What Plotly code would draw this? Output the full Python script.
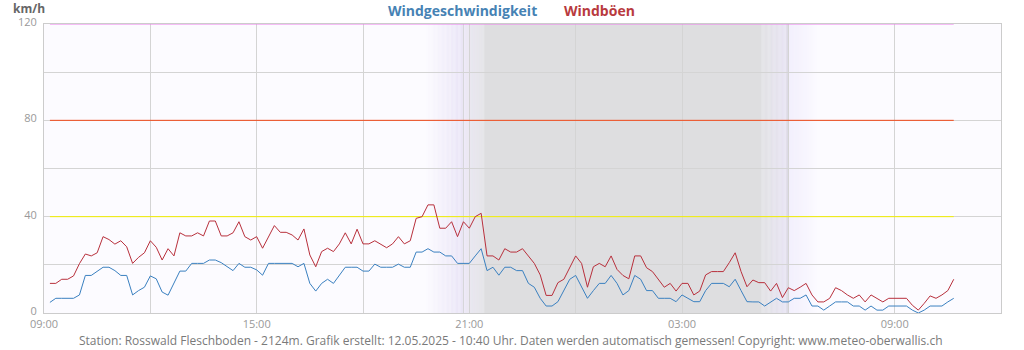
import plotly.graph_objects as go
import pandas as pd

# --- measurement series (km/h), one value every 10 minutes -------------------
START = "2025-05-11 09:10"
STEP = "10min"

wind_speed = [
    4.4, 6.1, 6.1, 6.1, 6.1, 7.5, 15.6, 15.6, 17.2, 19,
    19, 17.6, 15.6, 15.6, 7.5, 9.3, 10.7, 15.4, 14.2, 8.7,
    7.4, 12.3, 17.4, 17.4, 20.6, 20.6, 20.6, 22, 22, 20.9,
    19.2, 17.6, 20.6, 19, 19, 17.9, 15.7, 20.6, 20.6, 20.6,
    20.6,
    20.6, 19.2, 20.6, 12.3, 9.1, 12.3, 14, 12.3, 15.8, 19,
    19, 19, 17.4, 17.4, 20.3, 19, 19, 19, 20.3, 19,
    19, 25.3, 25.3, 26.7, 25.3, 25.3, 23.7, 23.7, 20.6, 20.6,
    20.6, 23.7, 26.7, 17.6, 19, 15.7, 19, 19, 17.6, 17.6,
    12.3,
    10.7, 6.1, 2.9, 2.9, 4.7, 9.3, 14, 15.6, 10.9, 6.1,
    9.3, 12.3, 12.3, 15.6, 12.3, 7.5, 9.3, 15.6, 14, 9.3,
    9.3, 6.1, 6.1, 6.1, 4.7, 7.5, 6.1, 4.7, 4.7, 9.3,
    12.3, 12.3, 12.3, 10.9, 14, 9.3, 4.7,
    4.6, 4.6, 2.9, 4.6, 6.1, 4.6, 4.6, 6.1, 6.1, 7.5,
    2.9, 2.9, 1.2, 2.9, 4.6, 4.6, 4.6, 2.9, 2.9, 1.2,
    2.9, 1.2, 1.2, 2.9, 2.9, 2.9, 2.9, 1.2, 0, 1.2,
    2.9, 2.9, 2.9, 4.6, 6.1,
]

wind_gusts = [
    12.3, 12.3, 14, 14, 15.4, 20.5, 24.5, 23.7, 25, 31.7,
    30.5, 28.6, 30, 27.5, 20.6, 23.1, 25, 30, 27.3, 22,
    26.7, 23.7, 33.3, 32, 32, 33.3, 32, 38.2, 38.2, 32,
    32, 33.3, 37.9, 31.7, 30.3, 31.7, 26.9, 31.7, 36.3, 33.5,
    33.5,
    32.4, 30.3, 34.9, 24.1, 19.2, 25.5, 26.9, 25.5, 28.7, 33.3,
    28.7, 34.8, 28.7, 28.7, 30, 28.7, 27.1, 28.7, 31.7, 28.7,
    30, 39.3, 40, 44.9, 44.9, 35.2, 35.2, 37.9, 31.7, 37.9,
    35.2, 40, 41.4, 23.7, 23.7, 22, 26.7, 25.3, 25.3, 26.7,
    23.7,
    20.6, 15.8, 7.3, 7.3, 12.6, 14, 19.2, 23.7, 20.6, 10.7,
    19.2, 20.6, 19.2, 23.7, 18.1, 15.6, 14.2, 23.7, 23.7, 18.8,
    17.2, 14, 10.7, 12.3, 9.1, 12.3, 12.3, 7.5, 9.1, 15.8,
    17.2, 17.2, 17.2, 20.9, 25, 17.2, 10.9,
    13.7, 12.6, 12.6, 9.1, 12.3, 6.4, 10.5, 9.3, 10.7, 12.3,
    7.5, 4.6, 4.6, 6.1, 10.5, 9.3, 7.5, 6.1, 7.5, 4.6,
    7.5, 6.1, 4.6, 6.1, 6.1, 6.1, 6.1, 3.2, 1.2, 4,
    7.1, 6.1, 7.5, 9.3, 14,
]

# warning levels (km/h) and their line colours
warn_levels = [40, 80, 120]
warn_colors = ["#f4f000", "#f04818", "#ee80ee"]

# sunset / sunrise
sunset = "2025-05-11 20:50"
sunrise = "2025-05-12 05:58"

x_start = "2025-05-11 09:00"
x_end = "2025-05-12 12:00"

y_tick_vals = [0, 40, 80, 120]

footer = ("Station: Rosswald Fleschboden - 2124m. Grafik erstellt: 12.05.2025 - 10:40 Uhr. "
          "Daten werden automatisch gemessen! Copyright: www.meteo-oberwallis.ch")

times = pd.date_range(START, periods=len(wind_speed), freq=STEP)

BG = (252, 251, 255)
LAV = (233, 228, 246)
GREY = (222, 222, 224)


def hexcol(c):
    return "#%02x%02x%02x" % tuple(int(round(v)) for v in c)


def mix(a, b, f):
    return tuple(a[i] + (b[i] - a[i]) * f for i in range(3))


# night shading: colour stops along time
stops = [
    (pd.Timestamp("2025-05-11 19:45"), BG),
    (pd.Timestamp(sunset), LAV),
    (pd.Timestamp("2025-05-11 21:00"), (226, 224, 236)),
    (pd.Timestamp("2025-05-11 21:25"), GREY),
    (pd.Timestamp("2025-05-12 05:15"), GREY),
    (pd.Timestamp(sunrise), (228, 224, 242)),
    (pd.Timestamp("2025-05-12 06:00"), (240, 236, 252)),
    (pd.Timestamp("2025-05-12 06:50"), BG),
]

shapes = []
for (t0, c0), (t1, c1) in zip(stops[:-1], stops[1:]):
    n = 1 if c0 == c1 else 30
    span = (t1 - t0) / n
    for i in range(n):
        a = t0 + span * i
        b = t0 + span * (i + 1)
        col = mix(c0, c1, (i + 0.5) / n)
        shapes.append(dict(type="rect", xref="x", yref="y", x0=a, x1=b, y0=0, y1=120,
                           fillcolor=hexcol(col), line=dict(width=0), layer="below"))

for t in (sunset, sunrise):
    shapes.append(dict(type="line", xref="x", yref="y", x0=t, x1=t, y0=0, y1=120,
                       line=dict(color="#d4d4d8", width=1), layer="below"))

fig = go.Figure()

for lvl, col in zip(warn_levels, warn_colors):
    fig.add_trace(go.Scatter(x=[times[0], times[-1]], y=[lvl, lvl], mode="lines",
                             line=dict(color=col, width=1), hoverinfo="skip",
                             showlegend=False, cliponaxis=False))

fig.add_trace(go.Scatter(x=times, y=wind_gusts, mode="lines", name="Windböen",
                         line=dict(color="#b8303c", width=1), showlegend=False))
fig.add_trace(go.Scatter(x=times, y=wind_speed, mode="lines", name="Windgeschwindigkeit",
                         line=dict(color="#3a80c0", width=1), showlegend=False))

FONT = "Open Sans"

fig.update_layout(
    width=1024, height=350,
    margin=dict(l=44, r=23, t=24, b=37),
    paper_bgcolor="white",
    plot_bgcolor=hexcol(BG),
    font=dict(family=FONT, size=11, color="#999999"),
    shapes=shapes,
    xaxis=dict(
        type="date", range=[x_start, x_end],
        tick0=x_start, dtick=6 * 3600 * 1000, tickformat="%H:%M",
        showgrid=True, gridcolor="#d4d4d4", gridwidth=1,
        minor=dict(dtick=3 * 3600 * 1000, showgrid=True, gridcolor="#d4d4d4", gridwidth=1),
        showline=True, linecolor="#cccccc", linewidth=1, mirror=True,
        ticks="", ticklabelstandoff=1, tickfont=dict(size=11, color="#999999"),
        zeroline=False, fixedrange=True,
    ),
    yaxis=dict(
        range=[0, 120], tickvals=y_tick_vals,
        showgrid=True, gridcolor="#d4d4d4", gridwidth=1,
        minor=dict(dtick=20, showgrid=True, gridcolor="#d4d4d4", gridwidth=1),
        showline=True, linecolor="#cccccc", linewidth=1, mirror=True,
        ticks="", ticklabelstandoff=4, ticklabelshift=-2,
        tickfont=dict(size=11, color="#999999"),
        zeroline=False, fixedrange=True,
    ),
    annotations=[
        dict(text="<b>km/h</b>", xref="paper", yref="paper", x=-0.034, y=1.0,
             yshift=16, xanchor="left", yanchor="middle", showarrow=False,
             font=dict(family=FONT, size=12, color="#666666")),
        dict(text="<b>Windgeschwindigkeit</b>", xref="paper", yref="paper",
             x=(462 - 44) / 957, y=1.0, yshift=14, xanchor="center", yanchor="middle",
             showarrow=False, font=dict(family=FONT, size=14, color="#4682b4")),
        dict(text="<b>Windböen</b>", xref="paper", yref="paper",
             x=(599 - 44) / 957, y=1.0, yshift=14, xanchor="center", yanchor="middle",
             showarrow=False, font=dict(family=FONT, size=14, color="#b83a3e")),
        dict(text=footer, xref="paper", yref="paper", x=(511 - 44) / 957, y=0,
             yshift=-27, xanchor="center", yanchor="middle", showarrow=False,
             font=dict(family=FONT, size=12, color="#7a7a7a")),
    ],
)

fig.write_html("out.html")
